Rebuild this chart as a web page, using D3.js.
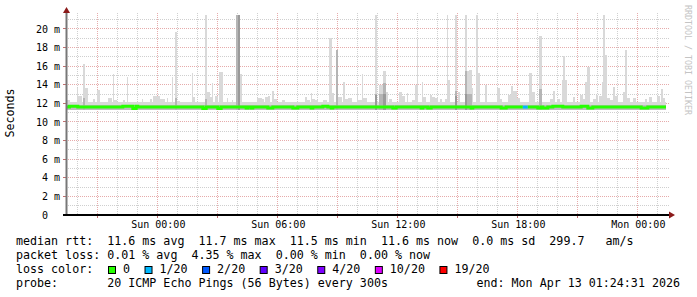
<!DOCTYPE html>
<html>
<head>
<meta charset="utf-8">
<script src="https://cdn.jsdelivr.net/npm/d3@7/dist/d3.min.js"></script>
<style>
body { margin: 0; background: #fff; }
text { font-family: "DejaVu Sans Mono", monospace; white-space: pre; }
</style>
</head>
<body>
<svg id="chart" width="697" height="297"></svg>
<script>
// time window of the graph
const startTime = new Date("2026-04-11T19:24:31");
const endTime = new Date("2026-04-13T01:24:31");
const sunMidnight = new Date("2026-04-12T00:00:00");

// data range, minutes relative to Sun 00:00, 5 min steps
const dataFirst = -275;
const dataLast = 1520;
const stepMin = 5;

// median rtt (ms): default and the stretches where it moves
const medianDefault = 11.6;
const medianShifts = [
    [-265, -240, 11.7], [-105, -75, 11.7], [-75, -69, 11.45], [-69, -60, 11.7],
    [132, 141, 11.45], [177, 186, 11.45], [261, 270, 11.5], [276, 285, 11.5],
    [327, 345, 11.5], [405, 417, 11.5], [456, 465, 11.5], [492, 507, 11.7],
    [516, 525, 11.5], [702, 711, 11.5], [786, 795, 11.5], [807, 816, 11.5],
    [936, 945, 11.5], [1026, 1041, 11.5], [1137, 1146, 11.5], [1155, 1167, 11.5],
    [1185, 1215, 11.7], [1266, 1290, 11.7], [1290, 1302, 11.5], [1446, 1467, 11.5]
];

// packet loss (pings lost of 20)
const lossRuns = [[1095, 1107, 1]];
const lossLevels = [0, 1, 2, 3, 4, 10, 19];
const lossLabels = ["0", "1/20", "2/20", "3/20", "4/20", "10/20", "19/20"];
const lossColors = ["#26ff00", "#00b8ff", "#0059ff", "#5e00ff", "#7e00ff", "#dd00ff", "#ff0000"];

// smoke: everywhere a thin band round the median
const smokeFloor = 11.3;
const smokeBaseTop = 12.1;
const smokeBaseMid = 11.85;
// smoke bursts: [from min, to min, max ms, inner ms, core ms]
const smokeBursts = [
    [-273, -264, 12.4], [-243, -240, 13.7], [-240, -228, 12.8], [-225, -219, 16.2, 12.6],
    [-219, -210, 13.7], [-195, -189, 12.5], [-183, -174, 13.4], [-150, -138, 12.6],
    [-135, -132, 15.2], [-132, -123, 12.4], [-105, -99, 12.4], [-93, -90, 14.8],
    [-48, -45, 12.5], [-24, -18, 12.5], [-15, 6, 12.8], [6, 21, 12.5],
    [27, 30, 12.6], [42, 45, 14.8], [51, 57, 19.7, 12.6], [57, 66, 12.3],
    [102, 105, 15.3], [105, 111, 12.7], [141, 147, 21.6, 12.5], [147, 156, 13.2],
    [156, 162, 12.7], [162, 165, 14.2], [171, 180, 12.8], [183, 195, 15.4],
    [207, 210, 12.6], [222, 225, 12.4], [236, 240, 21.6, 21.6], [240, 246, 21.6, 21.6, 21.6],
    [246, 252, 15.2], [297, 312, 12.6], [312, 318, 12.5], [321, 330, 12.7],
    [330, 336, 12.8], [342, 348, 13.3], [348, 357, 12.5], [372, 381, 12.4],
    [441, 447, 12.7], [447, 456, 12.4], [459, 462, 13.1], [462, 471, 12.5],
    [471, 480, 12.4], [495, 507, 12.4], [513, 522, 19.0], [522, 528, 13.1],
    [534, 540, 17.7, 17.7], [540, 552, 12.7], [555, 561, 14.3], [561, 570, 12.5],
    [570, 582, 12.6], [597, 600, 13.6], [600, 612, 12.4], [612, 615, 15.2],
    [615, 627, 12.6], [651, 657, 21.6, 13.0, 12.9], [663, 675, 14.0, 13.0], [675, 684, 15.5, 14.2, 13.0],
    [684, 690, 13.2], [693, 702, 12.5], [723, 732, 13.2], [732, 741, 12.8],
    [747, 750, 13.1], [762, 771, 12.4], [771, 777, 14.0], [777, 780, 18.8],
    [792, 795, 14.3], [795, 804, 12.7], [816, 822, 12.9], [822, 831, 12.7],
    [831, 840, 12.6], [846, 852, 12.5], [861, 867, 12.5], [867, 870, 21.6],
    [870, 876, 14.5], [891, 897, 21.6, 13.3, 12.8], [900, 906, 13.2], [921, 927, 21.6, 15.5, 13.0],
    [927, 933, 15.5, 13.0], [933, 942, 15.6, 13.0], [942, 945, 13.6], [954, 960, 21.6],
    [960, 966, 15.3], [981, 987, 14.0], [1017, 1026, 13.7], [1026, 1032, 12.5],
    [1050, 1059, 12.9], [1059, 1065, 13.9], [1065, 1077, 13.3], [1077, 1086, 12.6],
    [1113, 1122, 15.3], [1122, 1131, 13.2], [1143, 1152, 19.2, 13.5], [1176, 1185, 12.5],
    [1185, 1191, 13.3], [1197, 1206, 12.5], [1212, 1215, 14.5], [1215, 1221, 17.1],
    [1221, 1227, 14.5], [1245, 1251, 12.7], [1266, 1275, 12.9], [1275, 1281, 12.5],
    [1281, 1287, 14.3], [1287, 1296, 15.9], [1305, 1314, 12.5], [1314, 1320, 12.9],
    [1323, 1332, 12.8], [1332, 1335, 14.3], [1335, 1341, 21.6], [1341, 1347, 17.2],
    [1347, 1356, 12.6], [1356, 1365, 12.4], [1365, 1371, 13.8], [1371, 1380, 12.8],
    [1395, 1401, 13.2], [1401, 1407, 17.7], [1407, 1416, 12.6], [1425, 1434, 12.6],
    [1461, 1467, 12.5], [1473, 1482, 12.7], [1497, 1506, 12.8], [1509, 1515, 13.5],
    [1515, 1521, 12.6]
];

// axis
const yMajor = d3.range(0, 21, 2);
const yMinor = d3.range(1, 22, 2);
const yMax = 21.5;

// legend
const legendRows = [
    "median rtt:  11.6 ms avg  11.7 ms max  11.5 ms min  11.6 ms now  0.0 ms sd  299.7   am/s",
    "packet loss: 0.01 % avg  4.35 % max  0.00 % min  0.00 % now",
    "loss color:",
    "probe:       20 ICMP Echo Pings (56 Bytes) every 300s"
];
const endLabel = "end: Mon Apr 13 01:24:31 2026";

const svg = d3.select("#chart");
const plot = {left: 66, right: 666, top: 15, bottom: 215};

const x = d3.scaleTime().domain([startTime, endTime]).range([plot.left, plot.right]);
const y = d3.scaleLinear().domain([0, yMax]).range([plot.bottom, plot.top]);
const at = m => new Date(sunMidnight.getTime() + m * 60000);
const px = v => Math.floor(v) + 0.5;

svg.append("defs").append("clipPath").attr("id", "plotclip")
    .append("rect")
    .attr("x", plot.left).attr("y", plot.top)
    .attr("width", plot.right - plot.left).attr("height", plot.bottom - plot.top);

// grid
const grid_g = svg.append("g").attr("stroke-dasharray", "1,1").attr("stroke-width", 1);
const hours = d3.timeHour.every(1).range(startTime, endTime);
grid_g.selectAll(".vgrid")
    .data(hours)
    .join("line")
    .attr("x1", d => px(x(d))).attr("x2", d => px(x(d)))
    .attr("y1", plot.top - 2).attr("y2", plot.bottom)
    .attr("stroke", d => d.getHours() % 3 === 0 ? "#e6abab" : "#cfcfcf");
grid_g.selectAll(".hminor")
    .data(yMinor)
    .join("line")
    .attr("x1", plot.left).attr("x2", plot.right + 3)
    .attr("y1", d => px(y(d))).attr("y2", d => px(y(d)))
    .attr("stroke", "#cfcfcf");
grid_g.selectAll(".hmajor")
    .data(yMajor.filter(d => d > 0))
    .join("line")
    .attr("x1", plot.left).attr("x2", plot.right + 3)
    .attr("y1", d => px(y(d))).attr("y2", d => px(y(d)))
    .attr("stroke", "#e6abab");

// smoke
const smoke_g = svg.append("g").attr("clip-path", "url(#plotclip)").attr("shape-rendering", "crispEdges");
const layer = (g, rows, topOf, color) => g.append("g").selectAll("rect")
    .data(rows.filter(d => topOf(d) !== undefined))
    .join("rect")
    .attr("x", d => x(at(d[0])))
    .attr("width", d => Math.max(1, x(at(d[1])) - x(at(d[0]))))
    .attr("y", d => y(topOf(d)))
    .attr("height", d => y(smokeFloor) - y(topOf(d)))
    .attr("fill", color);

const baseRow = [[dataFirst, dataLast + stepMin, smokeBaseTop, smokeBaseMid]];
layer(smoke_g, baseRow, d => d[2], "#d9d9d9");
layer(smoke_g, smokeBursts, d => d[2], "#d9d9d9");
layer(smoke_g, baseRow, d => d[3], "#bdbdbd");
layer(smoke_g, smokeBursts, d => d[3], "#b5b5b5");
layer(smoke_g, smokeBursts, d => d[4], "#9a9a9a");

// median line, coloured by loss
const samples = d3.range(dataFirst, dataLast + 1, stepMin).map(m => {
    const s = medianShifts.find(r => m >= r[0] && m < r[1]);
    const l = lossRuns.find(r => m >= r[0] && m < r[1]);
    return {m: m, v: s ? s[2] : medianDefault, loss: l ? l[2] : 0};
});
const runs = [];
samples.forEach(d => {
    const last = runs[runs.length - 1];
    if (last && last.loss === d.loss) last.pts.push(d);
    else runs.push({loss: d.loss, pts: [d]});
});
const medLine = d3.line()
    .curve(d3.curveStepAfter)
    .x(d => x(at(d.m)))
    .y(d => y(d.v));
svg.append("g").attr("clip-path", "url(#plotclip)")
    .selectAll("path")
    .data(runs)
    .join("path")
    .attr("d", r => {
        const last = r.pts[r.pts.length - 1];
        return medLine(r.pts.concat([{m: last.m + stepMin, v: last.v}]));
    })
    .attr("fill", "none")
    .attr("stroke-width", 3)
    .attr("stroke", r => lossColors[lossLevels.indexOf(r.loss)]);

// axes
const axis_g = svg.append("g");
axis_g.selectAll(".ytick")
    .data(yMajor)
    .join("line")
    .attr("x1", plot.left - 3).attr("x2", plot.left)
    .attr("y1", d => px(y(d))).attr("y2", d => px(y(d)))
    .attr("stroke", "#c07070");
axis_g.selectAll(".xtick")
    .data(hours.filter(d => d.getHours() % 3 === 0))
    .join("line")
    .attr("x1", d => px(x(d))).attr("x2", d => px(x(d)))
    .attr("y1", plot.bottom).attr("y2", plot.bottom + 3)
    .attr("stroke", "#c07070");
axis_g.append("line")
    .attr("x1", plot.left + 0.5).attr("x2", plot.left + 0.5)
    .attr("y1", plot.top - 3).attr("y2", plot.bottom)
    .attr("stroke", "#777").attr("stroke-width", 2);
axis_g.append("line")
    .attr("x1", plot.left - 3).attr("x2", plot.right + 4)
    .attr("y1", plot.bottom).attr("y2", plot.bottom)
    .attr("stroke", "#000").attr("stroke-width", 2);
axis_g.append("path")
    .attr("d", `M${plot.left + 0.5},${plot.top - 8} L${plot.left - 3},${plot.top - 2} L${plot.left + 4},${plot.top - 2} Z`)
    .attr("fill", "#8b1a1a");
axis_g.append("path")
    .attr("d", `M${plot.right + 9},${plot.bottom} L${plot.right + 3},${plot.bottom - 3.5} L${plot.right + 3},${plot.bottom + 3.5} Z`)
    .attr("fill", "#8b1a1a");

axis_g.selectAll(".ylab")
    .data(yMajor)
    .join("text")
    .attr("x", d => d === 0 ? 48 : 60)
    .attr("y", d => y(d))
    .attr("dy", "0.36em")
    .attr("text-anchor", "end")
    .attr("font-size", "10px")
    .attr("fill", "#000")
    .text(d => d === 0 ? "0" : `${d} m`);

const fmt = d3.timeFormat("%a %H:%M");
axis_g.selectAll(".xlab")
    .data(hours.filter(d => d.getHours() % 6 === 0))
    .join("text")
    .attr("x", d => x(d) + 0.5)
    .attr("y", 228)
    .attr("text-anchor", "middle")
    .attr("font-size", "10px")
    .attr("fill", "#000")
    .text(d => fmt(d));

svg.append("text")
    .attr("transform", "translate(14, 113) rotate(-90)")
    .attr("text-anchor", "middle")
    .attr("font-size", "11.66px")
    .attr("fill", "#000")
    .text("Seconds");

svg.append("text")
    .attr("transform", "translate(685, 60) rotate(90)")
    .attr("text-anchor", "middle")
    .attr("font-size", "8.3px")
    .attr("fill", "#c4c4c4")
    .text("RRDTOOL / TOBI OETIKER");

// legend
const leg_g = svg.append("g").attr("font-size", "11.66px").attr("fill", "#000");
const rowY = [245, 259, 273, 287];
leg_g.selectAll(".row")
    .data(legendRows)
    .join("text")
    .attr("x", 16)
    .attr("y", (d, i) => rowY[i])
    .text(d => d);
leg_g.append("text")
    .attr("x", 680).attr("y", rowY[3])
    .attr("text-anchor", "end")
    .text(endLabel);

const charW = 7.02;
let bx = 108.5;
lossLabels.forEach((lab, i) => {
    leg_g.append("rect")
        .attr("x", bx).attr("y", 266.5)
        .attr("width", 7).attr("height", 7)
        .attr("fill", lossColors[i])
        .attr("stroke", "#000").attr("stroke-width", 1);
    leg_g.append("text")
        .attr("x", bx + 14.5).attr("y", rowY[2])
        .text(lab);
    bx = bx + 14.5 + lab.length * charW + 15;
});
</script>
</body>
</html>
